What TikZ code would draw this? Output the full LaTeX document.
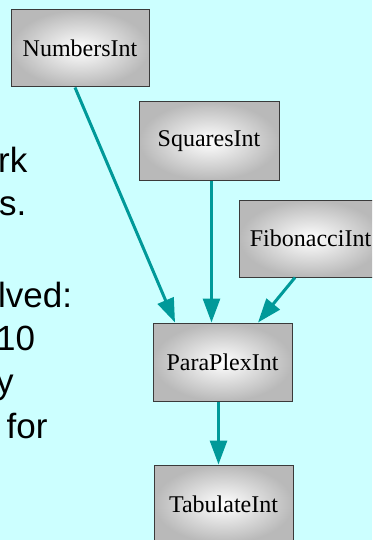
\documentclass[tikz,border=0pt]{standalone}
\usepackage{fontspec}
\setmainfont{Liberation Serif}
\newfontfamily\slidesans{Liberation Sans}
\usetikzlibrary{arrows.meta,calc}
\definecolor{bgcyan}{HTML}{CCFFFF}
\definecolor{teal}{HTML}{009999}
\definecolor{boxborder}{HTML}{3A3A3A}
\tikzset{
  classbox/.style={draw=boxborder, line width=1pt, shading=radial, inner color=white, outer color=gray!55,
    minimum height=77pt, inner sep=0pt, font=\fontsize{24}{28}\selectfont},
  dep/.style={draw=teal, line width=3pt, -{Triangle[length=24pt,width=17pt]}},
  slidetext/.style={anchor=base west, inner sep=0pt, font=\slidesans\fontsize{35}{42}\selectfont}
}
\begin{document}
\begin{tikzpicture}[x=1pt,y=-1pt]
\useasboundingbox (0,0) rectangle (372,540);
\clip (0,0) rectangle (372,540);
\fill[bgcyan] (0,0) rectangle (372,540);

\node[slidetext] (t1) at (-2,172) {rk};
\node[slidetext] (t2) at (-1,215) {s.};
\node[slidetext] (t3) at (-2,307) {lved:};
\node[slidetext] (t4) at (-4,350) {10};
\node[slidetext] (t5) at (-4,393) {y};
\node[slidetext] (t6) at (6.5,438) {for};

\node[classbox, minimum width=138pt] (nums) at (80,48.5) {NumbersInt};
\node[classbox, minimum width=140pt, minimum height=78pt] (sq) at (209,141) {SquaresInt};
\node[classbox, minimum width=143pt] (fib) at (310.5,238.5) {FibonacciInt};
\node[classbox, minimum width=139pt, minimum height=78pt] (pp) at (222.5,362) {ParaPlexInt};
\node[classbox, minimum width=139pt, minimum height=78pt] (tab) at (223.5,504) {TabulateInt};

\draw[dep] ($(nums.south)+(-5,0)$) -- ($(pp.north)+(-47.5,0)$);
\draw[dep] ($(sq.south)+(2.5,0)$) -- ($(pp.north)+(-11,0)$);
\draw[dep] ($(fib.south)+(-15.5,0)$) -- ($(pp.north)+(35.5,0)$);
\draw[dep] ($(pp.south)+(-4,0)$) -- ($(tab.north)+(-5,0)$);
\end{tikzpicture}
\end{document}
